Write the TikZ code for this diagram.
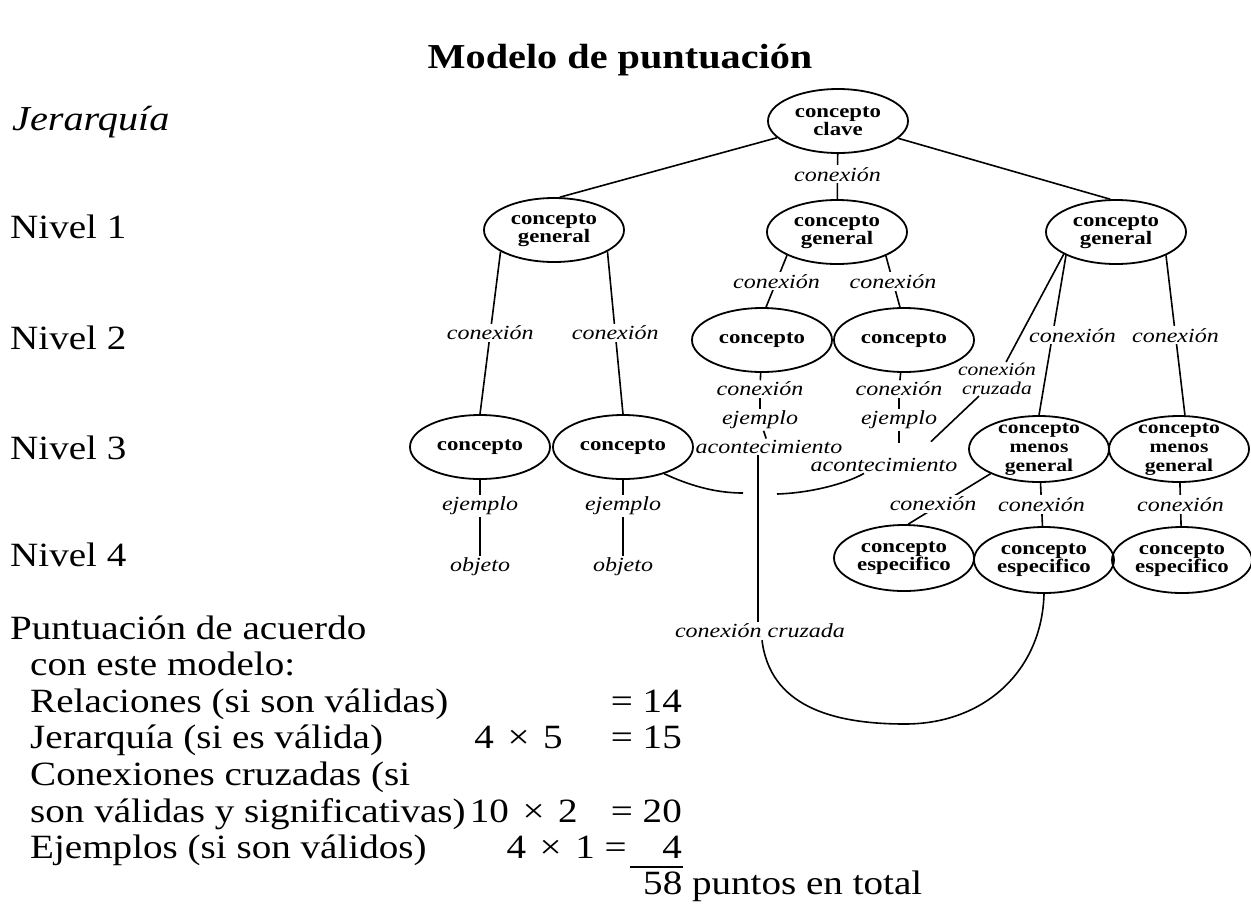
\documentclass[tikz,border=0pt]{standalone}
\usepackage{fontspec}
\setmainfont{Liberation Serif}[FakeStretch=1.15]
\newfontfamily\nodefont{Liberation Serif}[FakeStretch=1.2]
\usetikzlibrary{shapes.geometric,calc}
\begin{document}
\begin{tikzpicture}[x=1pt,y=-1pt,
  concept/.style={ellipse, draw, line width=1.8pt, inner sep=0pt, minimum width=140pt, minimum height=64pt, align=center, font=\nodefont\bfseries\fontsize{19}{17}\selectfont},
  concept3/.style={concept, minimum height=66pt, inner ysep=-4pt, font=\nodefont\bfseries\fontsize{18}{19}\selectfont},
  lab/.style={inner sep=2pt, fill=white, align=center, font=\nodefont\itshape\fontsize{20}{17}\selectfont},
  plainlab/.style={inner sep=1.5pt, font=\nodefont\itshape\fontsize{20}{16}\selectfont},
  conn/.style={line width=1.6pt},
  big/.style={anchor=base west, inner sep=0pt, font=\fontsize{34}{36}\selectfont},
  num/.style={anchor=base east, inner sep=0pt, font=\fontsize{34}{36}\selectfont}]
\useasboundingbox (0,0) rectangle (1251,903);
\fill[white] (0,0) rectangle (1251,903);

% title and left column
\node[anchor=base, inner sep=0pt, font=\bfseries\fontsize{35}{36}\selectfont] (title) at (620,68) {Modelo de puntuación};
\node[big, font=\itshape\fontsize{35}{36}\selectfont] (jer) at (12,130) {Jerarquía};
\node[big] (lv1) at (10,238) {Nivel 1};
\node[big] (lv2) at (10,349) {Nivel 2};
\node[big] (lv3) at (10,459) {Nivel 3};
\node[big] (lv4) at (10,566) {Nivel 4};

% scoring block
\node[big] (p1) at (10,639) {Puntuación de acuerdo};
\node[big] (p2) at (30,675) {con este modelo:};
\node[big] (p3) at (30,712) {Relaciones (si son válidas)};
\node[num] (r3) at (682,712) {= 14};
\node[big] (p4) at (30,748) {Jerarquía (si es válida)};
\node[num] (m4) at (563,748) {4\hspace{0.4em}×\hspace{0.4em}5};
\node[num] (r4) at (682,748) {= 15};
\node[big] (p5) at (30,785) {Conexiones cruzadas (si};
\node[big] (p6) at (30,822) {son válidas y significativas)};
\node[num] (m6) at (578,822) {10\hspace{0.4em}×\hspace{0.4em}2};
\node[num] (r6) at (682,822) {= 20};
\node[big] (p7) at (30,858) {Ejemplos (si son válidos)};
\node[num] (m7) at (627,858) {4\hspace{0.4em}×\hspace{0.4em}1 =};
\node[num] (r7) at (682,858) {4};
\draw[line width=1.5pt] ($(r7.base east)+(1,9)$) -- ($(r7.base east)+(-52,9)$);
\node[big] (p8) at (643,894) {58 puntos en total};

% concept nodes
\node[concept] (K) at (838,121) {concepto\\clave};
\node[concept] (G1) at (554,230) {concepto\\general};
\node[concept] (G2) at (837,232) {concepto\\general};
\node[concept] (G3) at (1116,232) {concepto\\general};
\node[concept] (N1) at (762,340) {concepto};
\node[concept] (N2) at (904,340) {concepto};
\node[concept] (C1) at (480,447) {concepto};
\node[concept] (C2) at (623,447) {concepto};
\node[concept3] (M1) at (1039,449) {concepto\\menos\\general};
\node[concept3] (M2) at (1179,449) {concepto\\menos\\general};
\node[concept, minimum height=66pt] (S1) at (904,558) {concepto\\especifico};
\node[concept, minimum height=66pt] (S2) at (1044,560) {concepto\\especifico};
\node[concept, minimum height=66pt] (S3) at (1182,560) {concepto\\especifico};

% top level
\draw[conn] (K) -- (G1.80);
\draw[conn] (K) -- (G3.100);
\draw[conn] (K) -- node[lab, pos=0.45] {conexión} (G2);

% left branch
\draw[conn] (G1.202) -- node[lab] {conexión} (C1.north);
\draw[conn] (G1.338) -- node[lab] {conexión} (C2.north);
\node[plainlab] (X1) at (480,506) {ejemplo};
\node[plainlab] (O1) at (480,567) {objeto};
\node[plainlab] (X2) at (623,506) {ejemplo};
\node[plainlab] (O2) at (623,567) {objeto};
\draw[conn] (C1) -- (X1);
\draw[conn] (X1) -- (O1);
\draw[conn] (C2) -- (X2);
\draw[conn] (X2) -- (O2);

% middle branch
\draw[conn] (G2.205) -- node[lab] {conexión} (N1.83);
\draw[conn] (G2.334) -- node[lab] {conexión} (N2.97);
\node[plainlab] (A1) at (760,389) {conexión};
\node[plainlab] (B1) at (760,420) {ejemplo};
\node[plainlab] (E1) at (769,447) {acontecimiento};
\draw[conn] (N1) -- (A1);
\draw[conn] (A1) -- (B1);
\draw[conn] (B1) -- (E1);
\node[plainlab] (A2) at (899,389) {conexión};
\node[plainlab] (B2) at (899,420) {ejemplo};
\node[plainlab] (E2) at (884,465) {acontecimiento};
\draw[conn] (N2) -- (A2);
\draw[conn] (A2) -- (B2);
\draw[conn, shorten >=14pt] (B2.south) -- (B2.south |- E2.north);

% cross link from middle down to specific concept
\node[lab] (XC) at (760,631) {conexión cruzada};
\draw[conn] ($(E1.south)+(-11,0)$) -- ($(XC.north)+(-2,0)$);
\draw[conn] ($(XC.south)+(2,0)$) .. controls (770,705) and (830,724) .. (905,724)
  .. controls (985,724) and (1042,670) .. (S2.south);

% cross link from left concept to acontecimiento
\coordinate (gapL) at (743,493);
\coordinate (gapR) at (777,494);
\draw[conn] (C2.327) .. controls (695,488) and (720,493) .. (gapL);
\draw[conn] (gapR) .. controls (810,493) and (845,484) .. ($(E2.south)+(-20,0)$);

% right branch
\node[lab, inner sep=1pt, font=\nodefont\itshape\fontsize{18}{19}\selectfont] (XR) at (997,379) {conexión\\cruzada};
\draw[conn] (G3.203) -- (XR);
\draw[conn] (XR) -- ($(E2.north east)+(-28,-15)$);
\draw[conn] (G3.205) -- node[lab, xshift=20pt] {conexión} (M1.north);
\draw[conn] (G3.335) -- node[lab] {conexión} (M2.80);
\draw[conn] (M1.207) -- node[lab, pos=0.6, xshift=-8pt] {conexión} (S1.83);
\draw[conn] (M1) -- node[lab] {conexión} (S2);
\draw[conn] (M2) -- node[lab] {conexión} (S3);
\end{tikzpicture}
\end{document}
